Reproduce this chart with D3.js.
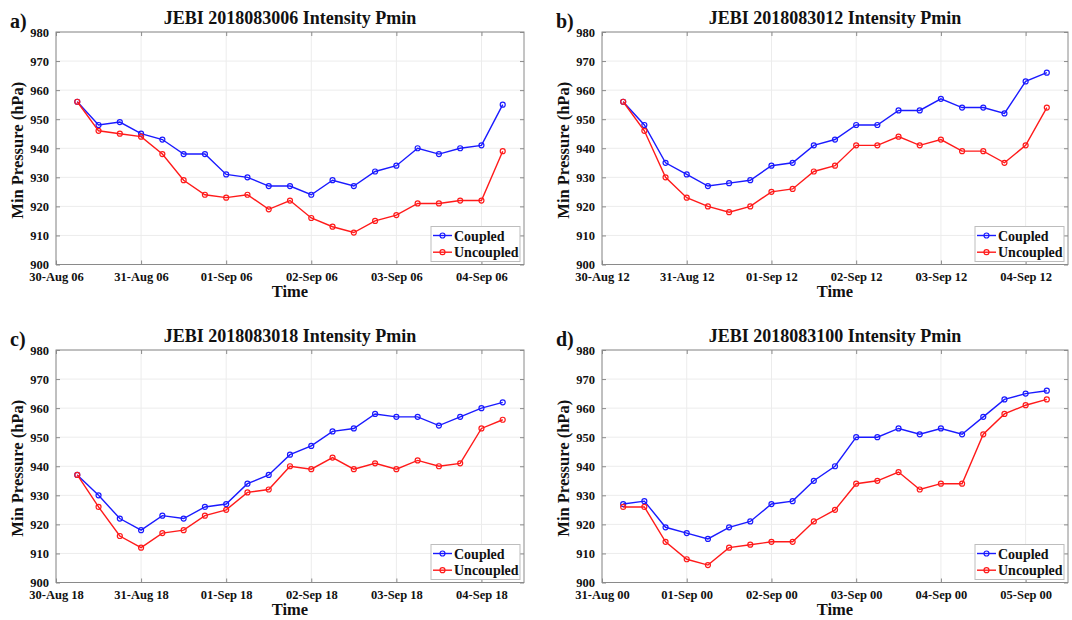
<!DOCTYPE html>
<html>
<head>
<meta charset="utf-8">
<script src="https://cdn.jsdelivr.net/npm/d3@7"></script>
<style>
  html, body { margin: 0; padding: 0; background: #fff; }
  svg { display: block; }
  text { font-family: "Liberation Serif", "Times New Roman", serif; font-weight: bold; fill: #111; }
</style>
</head>
<body>
<svg id="chart" width="1072" height="620"></svg>
<script>
// Minimum central pressure (hPa) for JEBI, 6-hourly, four forecast initialisations
const panelLabels = ["a)", "b)", "c)", "d)"];
const panelTitles = [
  "JEBI 2018083006 Intensity Pmin",
  "JEBI 2018083012 Intensity Pmin",
  "JEBI 2018083018 Intensity Pmin",
  "JEBI 2018083100 Intensity Pmin"
];
// axis start time of each panel (UTC); first sample is 6 h later
const panelStarts = ["2018-08-30T06:00Z", "2018-08-30T12:00Z", "2018-08-30T18:00Z", "2018-08-31T00:00Z"];

const coupledA   = [956, 948, 949, 945, 943, 938, 938, 931, 930, 927, 927, 924, 929, 927, 932, 934, 940, 938, 940, 941, 955];
const uncoupledA = [956, 946, 945, 944, 938, 929, 924, 923, 924, 919, 922, 916, 913, 911, 915, 917, 921, 921, 922, 922, 939];
const coupledB   = [956, 948, 935, 931, 927, 928, 929, 934, 935, 941, 943, 948, 948, 953, 953, 957, 954, 954, 952, 963, 966];
const uncoupledB = [956, 946, 930, 923, 920, 918, 920, 925, 926, 932, 934, 941, 941, 944, 941, 943, 939, 939, 935, 941, 954];
const coupledC   = [937, 930, 922, 918, 923, 922, 926, 927, 934, 937, 944, 947, 952, 953, 958, 957, 957, 954, 957, 960, 962];
const uncoupledC = [937, 926, 916, 912, 917, 918, 923, 925, 931, 932, 940, 939, 943, 939, 941, 939, 942, 940, 941, 953, 956];
const coupledD   = [927, 928, 919, 917, 915, 919, 921, 927, 928, 935, 940, 950, 950, 953, 951, 953, 951, 957, 963, 965, 966];
const uncoupledD = [926, 926, 914, 908, 906, 912, 913, 914, 914, 921, 925, 934, 935, 938, 932, 934, 934, 951, 958, 961, 963];

const coupledSeries   = [coupledA, coupledB, coupledC, coupledD];
const uncoupledSeries = [uncoupledA, uncoupledB, uncoupledC, uncoupledD];

const seriesNames = ["Coupled", "Uncoupled"];
const seriesColors = ["#1a1aff", "#ff1a1a"];
const yTicks = [900, 910, 920, 930, 940, 950, 960, 970, 980];

// layout of the 2x2 grid
const colLeft = [56, 602];
const colWidth = [468, 466];
const rowTop = [32, 350];
const plotHeight = 232.5;

const svg = d3.select("#chart");
const fmt = d3.utcFormat("%d-%b %H");

panelTitles.forEach((title, p) => {
  const col = p % 2, row = Math.floor(p / 2);
  const left = colLeft[col], top = rowTop[row];
  const w = colWidth[col], h = plotHeight;
  const t0 = new Date(panelStarts[p]);
  const t1 = d3.utcHour.offset(t0, 132);

  const x = d3.scaleUtc().domain([t0, t1]).range([0, w]);
  const y = d3.scaleLinear().domain([900, 980]).range([h, 0]);
  const xTicks = d3.range(6).map(d => d3.utcDay.offset(t0, d));

  const g = svg.append("g").attr("transform", `translate(${left},${top})`);

  // grid
  g.append("g").selectAll("line").data(yTicks).join("line")
    .attr("x1", 0).attr("x2", w).attr("y1", d => y(d)).attr("y2", d => y(d))
    .attr("stroke", "#ececec").attr("stroke-width", 1);
  g.append("g").selectAll("line").data(xTicks).join("line")
    .attr("y1", 0).attr("y2", h).attr("x1", d => x(d)).attr("x2", d => x(d))
    .attr("stroke", "#ececec").attr("stroke-width", 1);

  // axes (inward ticks, box)
  const axisColor = "#8a8a8a";
  const ax = (sel) => sel.call(s => s.select(".domain").remove())
    .call(s => s.selectAll(".tick line").attr("stroke", axisColor))
    .call(s => s.selectAll(".tick text").attr("fill", "#111")
      .style("font-family", '"Liberation Serif", "Times New Roman", serif')
      .style("font-weight", "bold").style("font-size", "12.5px"));

  g.append("g").attr("transform", `translate(0,${h})`)
    .call(d3.axisBottom(x).tickValues(xTicks).tickFormat(fmt).tickSizeInner(-4).tickPadding(8))
    .call(ax);
  g.append("g")
    .call(d3.axisTop(x).tickValues(xTicks).tickFormat("").tickSizeInner(-4))
    .call(ax);
  g.append("g")
    .call(d3.axisLeft(y).tickValues(yTicks).tickFormat(d3.format("d")).tickSizeInner(-4).tickPadding(7))
    .call(ax);
  g.append("g").attr("transform", `translate(${w},0)`)
    .call(d3.axisRight(y).tickValues(yTicks).tickFormat("").tickSizeInner(-4))
    .call(ax);
  g.append("rect").attr("x", 0).attr("y", 0).attr("width", w).attr("height", h)
    .attr("fill", "none").attr("stroke", axisColor).attr("stroke-width", 1);

  // series
  const seriesData = [coupledSeries[p], uncoupledSeries[p]];
  const line = d3.line().x(d => x(d.t)).y(d => y(d.v));
  seriesData.forEach((vals, s) => {
    const pts = vals.map((v, i) => ({ t: d3.utcHour.offset(t0, 6 * (i + 1)), v }));
    g.append("path").datum(pts).attr("d", line)
      .attr("fill", "none").attr("stroke", seriesColors[s]).attr("stroke-width", 1.4);
    g.append("g").selectAll("circle").data(pts).join("circle")
      .attr("cx", d => x(d.t)).attr("cy", d => y(d.v)).attr("r", 2.5)
      .attr("fill", "none").attr("stroke", seriesColors[s]).attr("stroke-width", 1.2);
  });

  // legend
  const lw = 89, lh = 35;
  const lg = g.append("g").attr("transform", `translate(${w - lw - 4},${h - lh - 3})`);
  lg.append("rect").attr("width", lw).attr("height", lh)
    .attr("fill", "#fff").attr("stroke", "#bdbdbd").attr("stroke-width", 1);
  seriesNames.forEach((name, s) => {
    const cy = 9 + s * 16.7;
    lg.append("line").attr("x1", 2).attr("x2", 21).attr("y1", cy).attr("y2", cy)
      .attr("stroke", seriesColors[s]).attr("stroke-width", 1.4);
    lg.append("circle").attr("cx", 11.5).attr("cy", cy).attr("r", 2.5)
      .attr("fill", "none").attr("stroke", seriesColors[s]).attr("stroke-width", 1.2);
    lg.append("text").attr("x", 23).attr("y", cy + 5).style("font-size", "14px").text(name);
  });

  // titles and labels
  g.append("text").attr("x", w / 2).attr("y", -8).attr("text-anchor", "middle")
    .style("font-size", "18px").text(title);
  g.append("text").attr("x", -46).attr("y", -4)
    .style("font-size", "20px").text(panelLabels[p]);
  g.append("text").attr("transform", `translate(-33,${h / 2 + 2}) rotate(-90)`)
    .attr("text-anchor", "middle").style("font-size", "16.5px").text("Min Pressure (hPa)");
  g.append("text").attr("x", w / 2).attr("y", h + 32).attr("text-anchor", "middle")
    .style("font-size", "16.5px").text("Time");
});
</script>
</body>
</html>
